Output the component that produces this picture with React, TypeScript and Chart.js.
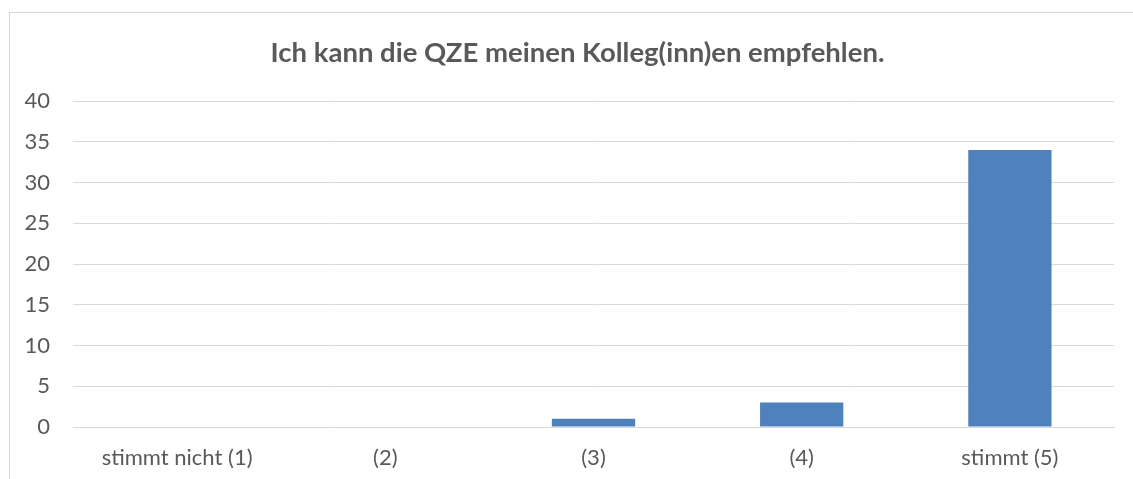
import React, { useEffect, useRef } from "react";
import { Chart, registerables } from "chart.js";

Chart.register(...registerables);

const titleText = "Ich kann die QZE meinen Kolleg(inn)en empfehlen.";
const categories = ["stimmt nicht (1)", "(2)", "(3)", "(4)", "stimmt (5)"];
const counts = [0, 0, 1, 3, 34];
const yMin = 0;
const yMax = 40;
const yStep = 5;

const FONT = "Lato, 'Open Sans', sans-serif";
const TEXT = "#595959";
const GRID = "#D9D9D9";
const BAR = "#4F81BD";

const titlePlugin = {
  id: "boxTitle",
  afterDraw(chart: any) {
    const ctx = chart.ctx;
    ctx.save();
    ctx.fillStyle = TEXT;
    ctx.font = `bold 27.5px ${FONT}`;
    ctx.textAlign = "center";
    ctx.textBaseline = "middle";
    ctx.fillText(titleText, (chart.width + 22) / 2, 53);
    ctx.restore();
  },
};

export default function App() {
  const ref = useRef<HTMLCanvasElement | null>(null);

  useEffect(() => {
    if (!ref.current) return;
    const chart = new Chart(ref.current, {
      type: "bar",
      data: {
        labels: categories,
        datasets: [
          {
            data: counts,
            backgroundColor: BAR,
            borderWidth: 0,
            barPercentage: 0.4,
            categoryPercentage: 1,
          },
        ],
      },
      plugins: [titlePlugin],
      options: {
        animation: false,
        responsive: false,
        maintainAspectRatio: false,
        layout: { padding: { top: 101, right: 19, left: 0, bottom: 0 } },
        plugins: {
          legend: { display: false },
          tooltip: { enabled: false },
          title: { display: false },
        },
        scales: {
          x: {
            grid: { display: false, drawTicks: false },
            border: { display: true, color: GRID, width: 1 },
            ticks: {
              color: TEXT,
              font: { family: FONT, size: 22 },
              padding: 18,
              maxRotation: 0,
            },
            afterFit: (s: any) => {
              s.height = 52;
            },
          },
          y: {
            min: yMin,
            max: yMax,
            grid: { color: GRID, drawTicks: false, lineWidth: 1 },
            border: { display: false },
            ticks: {
              stepSize: yStep,
              color: TEXT,
              font: { family: FONT, size: 22 },
              padding: 23,
            },
            afterFit: (s: any) => {
              s.width = 73;
            },
          },
        },
      },
    });
    return () => chart.destroy();
  }, []);

  return (
    <div style={{ position: "fixed", left: 0, top: 0, width: 1133, height: 479, background: "#fff" }}>
      <div
        style={{
          position: "absolute",
          left: 9,
          top: 12,
          width: 1200,
          height: 600,
          borderLeft: `1px solid ${GRID}`,
          borderTop: `1px solid ${GRID}`,
        }}
      />
      <canvas ref={ref} width={1133} height={479} style={{ position: "absolute", left: 0, top: 0 }} />
    </div>
  );
}
